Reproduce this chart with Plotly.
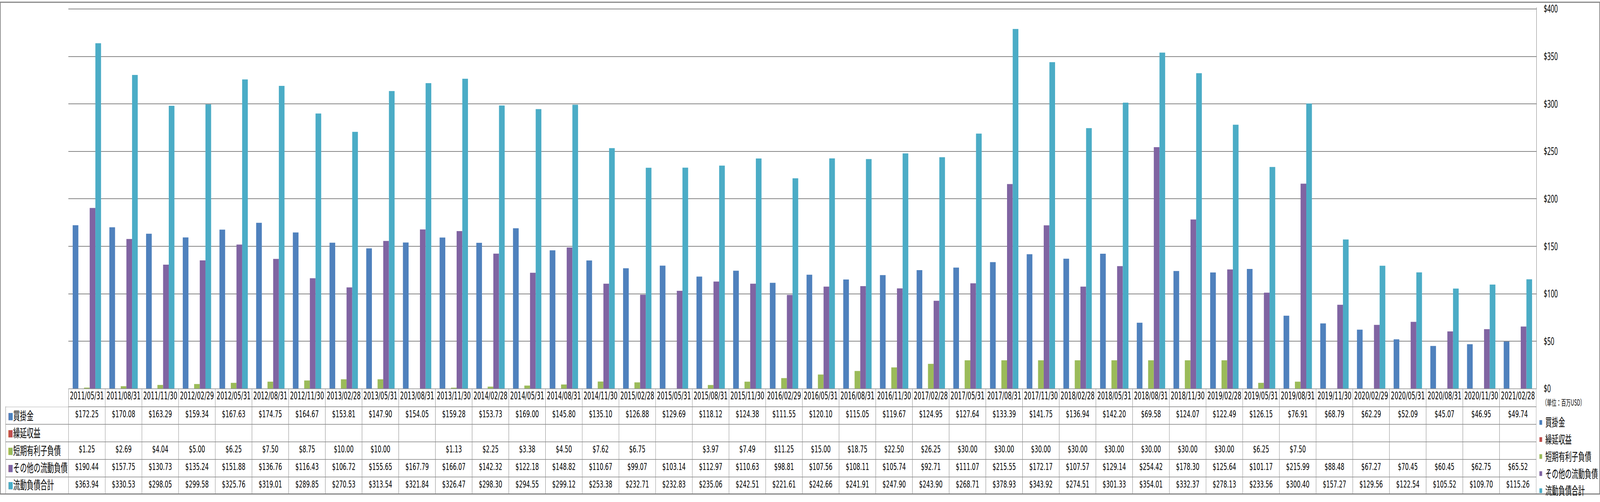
import plotly.graph_objects as go

dates = ["2011/05/31","2011/08/31","2011/11/30","2012/02/29","2012/05/31","2012/08/31","2012/11/30","2013/02/28",
         "2013/05/31","2013/08/31","2013/11/30","2014/02/28","2014/05/31","2014/08/31","2014/11/30","2015/02/28",
         "2015/05/31","2015/08/31","2015/11/30","2016/02/29","2016/05/31","2016/08/31","2016/11/30","2017/02/28",
         "2017/05/31","2017/08/31","2017/11/30","2018/02/28","2018/05/31","2018/08/31","2018/11/30","2019/02/28",
         "2019/05/31","2019/08/31","2019/11/30","2020/02/29","2020/05/31","2020/08/31","2020/11/30","2021/02/28"]

accounts_payable = [172.25,170.08,163.29,159.34,167.63,174.75,164.67,153.81,147.90,154.05,159.28,153.73,169.00,145.80,
                    135.10,126.88,129.69,118.12,124.38,111.55,120.10,115.05,119.67,124.95,127.64,133.39,141.75,136.94,
                    142.20,69.58,124.07,122.49,126.15,76.91,68.79,62.29,52.09,45.07,46.95,49.74]

deferred_revenue = [None]*40

short_term_debt = [1.25,2.69,4.04,5.00,6.25,7.50,8.75,10.00,10.00,None,1.13,2.25,3.38,4.50,7.62,6.75,None,3.97,7.49,
                   11.25,15.00,18.75,22.50,26.25,30.00,30.00,30.00,30.00,30.00,30.00,30.00,30.00,6.25,7.50,
                   None,None,None,None,None,None]

other_current = [190.44,157.75,130.73,135.24,151.88,136.76,116.43,106.72,155.65,167.79,166.07,142.32,122.18,148.82,
                 110.67,99.07,103.14,112.97,110.63,98.81,107.56,108.11,105.74,92.71,111.07,215.55,172.17,107.57,
                 129.14,254.42,178.30,125.64,101.17,215.99,88.48,67.27,70.45,60.45,62.75,65.52]

total_current = [363.94,330.53,298.05,299.58,325.76,319.01,289.85,270.53,313.54,321.84,326.47,298.30,294.55,299.12,
                 253.38,232.71,232.83,235.06,242.51,221.61,242.66,241.91,247.90,243.90,268.71,378.93,343.92,274.51,
                 301.33,354.01,332.37,278.13,233.56,300.40,157.27,129.56,122.54,105.52,109.70,115.26]

series_names = ["買掛金","繰延収益","短期有利子負債","その他の流動負債","流動負債合計"]
series_values = [accounts_payable, deferred_revenue, short_term_debt, other_current, total_current]
series_colors = ["#4F81BD","#C0504D","#9BBB59","#8064A2","#4BACC6"]

unit_label = "（単位：百万USD）"
y_ticks = [0, 50, 100, 150, 200, 250, 300, 350, 400]
y_tick_text = ["$0", "$50", "$100", "$150", "$200", "$250", "$300", "$350", "$400"]

W, H = 7052, 1286
ML, MR, MT, MB = 25, 281, 15, 3
PW, PH = W - ML - MR, H - MT - MB
label_col_w = 277
header_h, cell_h = 46, 45
table_h = 273
plot_h = PH - table_h
top_pad = 4  # px above the top gridline inside the plot area

def px_x(x):
    return (x - ML) / PW

def px_y(y):
    return 1 - (y - MT) / PH

fig = go.Figure()
for i, (name, vals, col) in enumerate(zip(series_names, series_values, series_colors)):
    fig.add_trace(go.Bar(
        x=dates, y=vals, name=name, marker=dict(color=col, line=dict(width=0)),
        legendgroup=f"g{i}", xaxis="x", yaxis="y",
    ))

def fmt(v):
    return "" if v is None else f"${v:,.2f}"

columns = [[""] * len(series_names)] + [[fmt(vals[j]) for vals in series_values] for j in range(len(dates))]

grid = "#8C8C8C"
fig.add_trace(go.Table(
    domain=dict(x=[0, 1], y=[0, table_h / PH]),
    columnwidth=[label_col_w] + [(PW - label_col_w) / len(dates)] * len(dates),
    header=dict(
        values=[""] + dates,
        height=header_h,
        align="center",
        fill=dict(color="white"),
        line=dict(color=["rgba(0,0,0,0)"] + [grid] * len(dates), width=1.5),
        font=dict(family="DejaVu Sans", size=26, color="black"),
    ),
    cells=dict(
        values=columns,
        height=cell_h,
        align="center",
        fill=dict(color="white"),
        line=dict(color=grid, width=1.5),
        font=dict(family="DejaVu Sans", size=25, color="black"),
    ),
))

table_top = H - MB - table_h
row_labels = []
for i, (n, c) in enumerate(zip(series_names, series_colors)):
    yc = table_top + header_h + cell_h * i + cell_h / 2
    row_labels.append(dict(
        text=f"<span style='color:{c};font-size:23px'>■</span>{n}",
        xref="paper", yref="paper", x=px_x(33), y=px_y(yc),
        xanchor="left", yanchor="middle", showarrow=False,
        font=dict(family="Noto Sans CJK JP", size=30, color="black")))

fig.update_layout(
    width=W, height=H,
    margin=dict(l=ML, r=MR, t=MT, b=MB),
    paper_bgcolor="white", plot_bgcolor="white",
    barmode="group", bargap=0.227, bargroupgap=0,
    xaxis=dict(domain=[label_col_w / PW, 1], type="category", showticklabels=False,
               showgrid=False, zeroline=False, showline=False, ticks=""),
    yaxis=dict(domain=[table_h / PH, 1],
               range=[0, y_ticks[-1] * plot_h / (plot_h - top_pad)],
               tickmode="array", tickvals=y_ticks, ticktext=y_tick_text,
               side="right", showgrid=True, gridcolor="#868686", gridwidth=1.5,
               zeroline=False, showline=True, linecolor="#868686", linewidth=1.5,
               ticks="", ticklabelstandoff=26, ticklabeloverflow="allow",
               tickfont=dict(family="Noto Sans", size=27, color="black")),
    legend=dict(x=1.0, xanchor="left", y=px_y(1072), yanchor="top",
                traceorder="grouped", tracegroupgap=3,
                font=dict(family="Noto Sans CJK JP", size=29, color="black"),
                bgcolor="rgba(0,0,0,0)", borderwidth=0),
    annotations=[dict(text=unit_label, xref="paper", yref="paper",
                      x=px_x(6795), y=px_y(1045), xanchor="left", yanchor="middle",
                      showarrow=False, font=dict(family="Noto Sans CJK JP", size=21, color="black"))]
                + row_labels,
    shapes=[dict(type="rect", xref="paper", yref="paper",
                 x0=px_x(1.5), x1=px_x(W - 1.5), y0=px_y(H - 1.5), y1=px_y(1.5),
                 line=dict(color="#868686", width=3), fillcolor="rgba(0,0,0,0)", layer="above")],
)

# The figure is laid out at the reference size; if the browser window is narrower than that,
# squeeze it horizontally so the whole chart stays visible.
fit_script = """
(function(){
  var gd = document.getElementById('{plot_id}');
  document.documentElement.style.margin = '0';
  document.body.style.margin = '0';
  document.documentElement.style.overflow = 'hidden';
  document.body.style.overflow = 'hidden';
  var s = window.innerWidth / %d;
  if (s < 1) {
    gd.style.transformOrigin = '0 0';
    gd.style.transform = 'scale(' + s + ',1)';
  }
})();
""" % W
fig.write_html("out.html", post_script=fit_script, config={"displayModeBar": False})
